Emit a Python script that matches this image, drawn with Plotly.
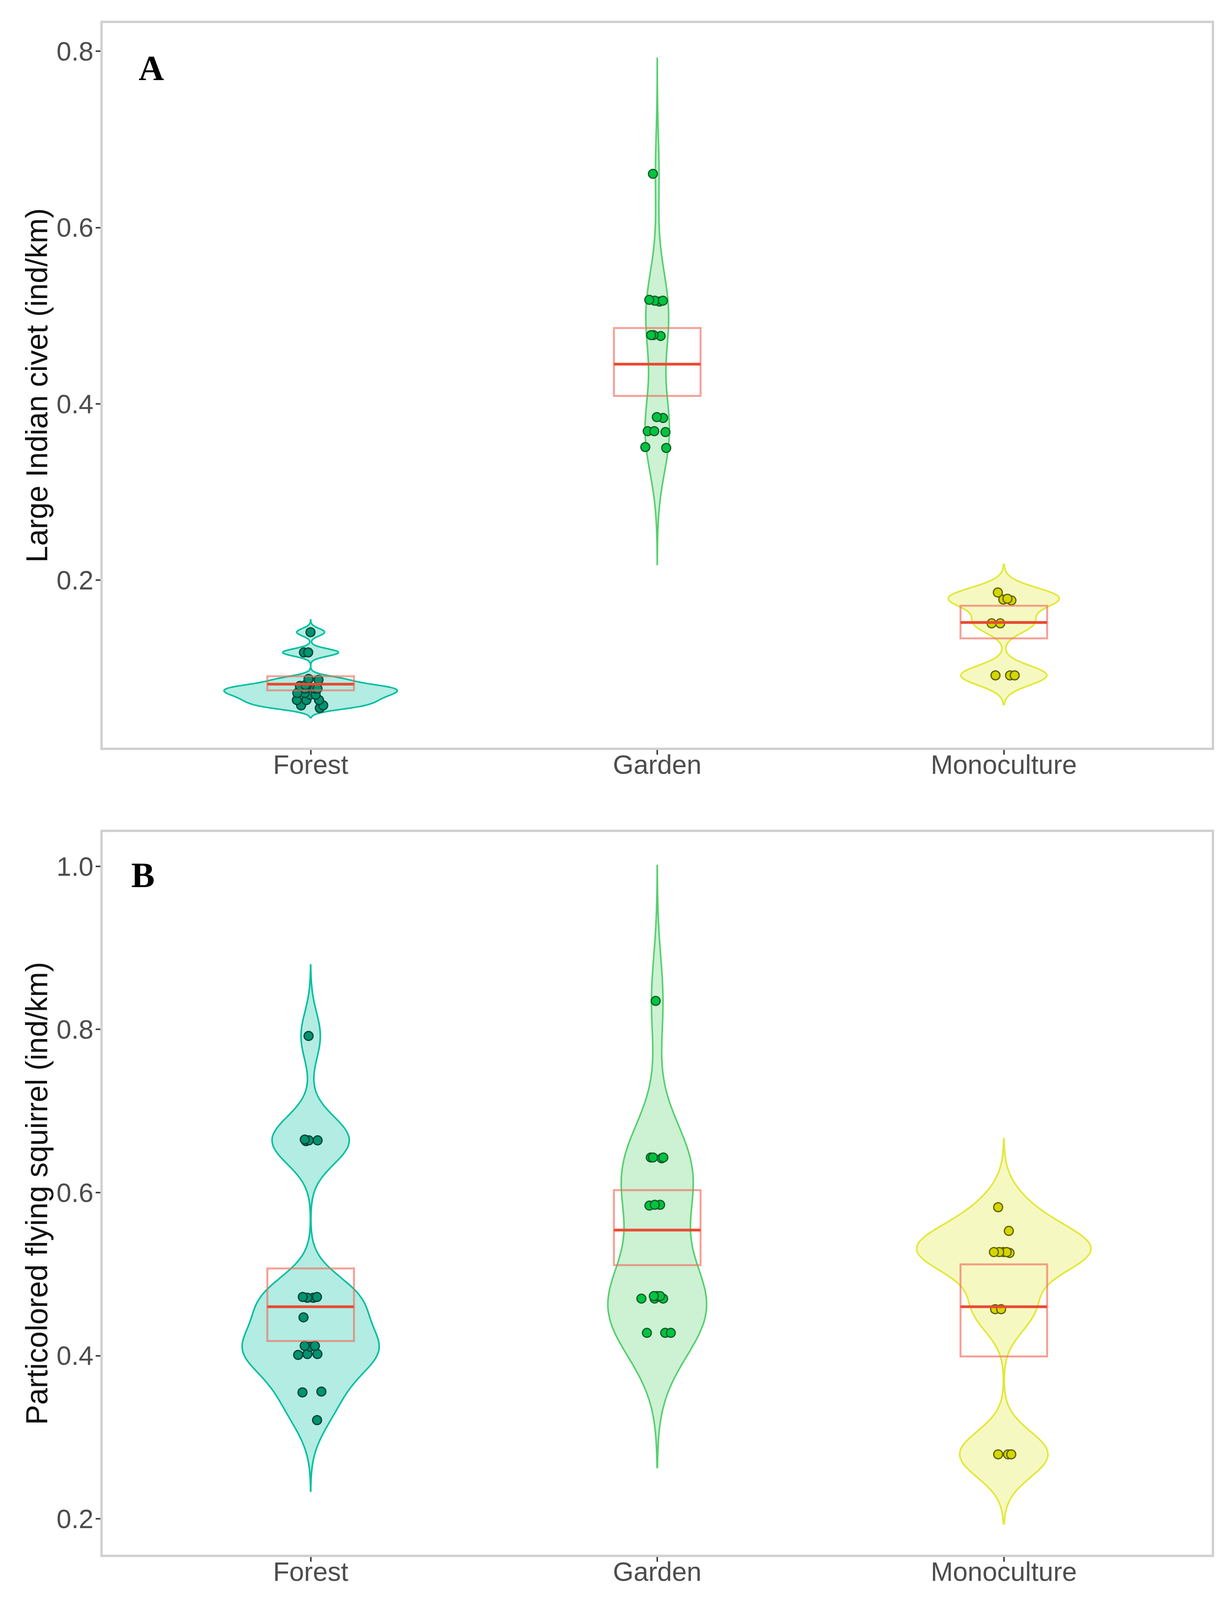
import plotly.graph_objects as go
from plotly.subplots import make_subplots

# ===============================
# DATA
# ===============================
HABITATS = ["Forest", "Garden", "Monoculture"]

# A - Large Indian civet (ind/km)
civet_forest = [0.141, 0.118, 0.118, 0.088, 0.087, 0.081, 0.080, 0.077, 0.077, 0.077,
                0.072, 0.072, 0.070, 0.070, 0.064, 0.064, 0.064, 0.058, 0.058, 0.055]
civet_garden = [0.661, 0.518, 0.517, 0.517, 0.516, 0.478, 0.478, 0.477,
                0.385, 0.384, 0.369, 0.369, 0.368, 0.351, 0.350]
civet_mono = [0.186, 0.179, 0.178, 0.177, 0.151, 0.151, 0.092, 0.092, 0.092]
civet_box_low = [0.075, 0.409, 0.134]
civet_box_mid = [0.082, 0.445, 0.152]
civet_box_high = [0.091, 0.486, 0.171]
civet_bandwidth = [0.0042, 0.044, 0.011]
civet_span_low = [0.044, 0.218, 0.059]
civet_span_high = [0.155, 0.792, 0.218]

# B - Particolored flying squirrel (ind/km)
squirrel_forest = [0.792, 0.665, 0.664, 0.664, 0.663, 0.472, 0.472, 0.471, 0.471, 0.447,
                   0.412, 0.412, 0.411, 0.402, 0.402, 0.401, 0.356, 0.355, 0.321]
squirrel_garden = [0.835, 0.643, 0.643, 0.643, 0.642, 0.585, 0.585, 0.584,
                   0.473, 0.473, 0.473, 0.470, 0.470, 0.470, 0.428, 0.428, 0.428]
squirrel_mono = [0.582, 0.553, 0.527, 0.527, 0.527, 0.527, 0.526, 0.457, 0.457,
                 0.279, 0.279, 0.279]
squirrel_box_low = [0.418, 0.511, 0.399]
squirrel_box_mid = [0.460, 0.554, 0.460]
squirrel_box_high = [0.507, 0.603, 0.512]
squirrel_bandwidth = [0.029, 0.055, 0.028]
squirrel_span_low = [0.234, 0.263, 0.194]
squirrel_span_high = [0.879, 1.001, 0.666]

# ===============================
# STYLE
# ===============================
FONT = "Liberation Sans, Arial, sans-serif"
SERIF = "Liberation Serif, Times New Roman, serif"
LINE_COL = ["#00BF9F", "#55D06E", "#E1E834"]
FILL_COL = ["rgba(0,191,160,0.30)", "rgba(85,208,110,0.30)", "rgba(225,232,52,0.30)"]
PT_FILL = ["#00936F", "#00C440", "#D4D600"]
PT_EDGE = ["#064035", "#155A28", "#5E5E00"]
BOX_COL = "rgba(240,110,95,0.65)"
MED_COL = "#EA4A32"
civet_width = [0.50, 0.07, 0.32]
squirrel_width = [0.394, 0.285, 0.50]

# page is shot in a viewport a bit shorter than the figure, so fit it in
FIG_W, FIG_H = 3126, 4089

fig = make_subplots(rows=2, cols=1)


def add_panel(row, groups, box_low, box_mid, box_high, bws, span_lo, span_hi, widths):
    for i, hab in enumerate(HABITATS):
        vals = groups[i]
        fig.add_trace(go.Violin(
            x=[hab] * len(vals), y=vals,
            bandwidth=bws[i], spanmode="manual", span=[span_lo[i], span_hi[i]],
            width=widths[i], points=False,
            line=dict(color=LINE_COL[i], width=4),
            fillcolor=FILL_COL[i],
            box_visible=False, meanline_visible=False,
        ), row=row, col=1)
    for i, hab in enumerate(HABITATS):
        vals = groups[i]
        fig.add_trace(go.Box(
            x=[hab] * len(vals), y=vals,
            boxpoints="all", jitter=0.9, pointpos=0, width=0.12,
            line=dict(width=0), fillcolor="rgba(0,0,0,0)",
            marker=dict(size=23, color=PT_FILL[i],
                        line=dict(color=PT_EDGE[i], width=3)),
        ), row=row, col=1)
    # box + centre line
    fig.add_trace(go.Box(
        x=HABITATS, q1=box_low, median=box_mid, q3=box_high,
        lowerfence=box_low, upperfence=box_high,
        width=0.25, line=dict(color=BOX_COL, width=5),
        fillcolor="rgba(0,0,0,0)",
    ), row=row, col=1)
    fig.add_trace(go.Box(
        x=HABITATS, q1=box_mid, median=box_mid, q3=box_mid,
        lowerfence=box_mid, upperfence=box_mid,
        width=0.25, line=dict(color=MED_COL, width=7),
        fillcolor="rgba(0,0,0,0)",
    ), row=row, col=1)


add_panel(1, [civet_forest, civet_garden, civet_mono],
          civet_box_low, civet_box_mid, civet_box_high,
          civet_bandwidth, civet_span_low, civet_span_high, civet_width)
add_panel(2, [squirrel_forest, squirrel_garden, squirrel_mono],
          squirrel_box_low, squirrel_box_mid, squirrel_box_high,
          squirrel_bandwidth, squirrel_span_low, squirrel_span_high, squirrel_width)

axis_common = dict(
    showline=True, mirror=True, linecolor="#D0D0D0", linewidth=6,
    ticks="outside", ticklen=12, tickwidth=4, tickcolor="#404040",
    showgrid=False, zeroline=False,
    tickfont=dict(family=FONT, size=68, color="#4D4D4D"),
)

for r in (1, 2):
    fig.update_xaxes(type="category", categoryorder="array", categoryarray=HABITATS,
                     range=[-0.6, 2.6], ticklabelstandoff=-33, **axis_common, row=r, col=1)

fig.update_yaxes(range=[0.010, 0.832], tickvals=[0.2, 0.4, 0.6, 0.8], tickformat=".1f",
                 ticklabelstandoff=-8,
                 title=dict(text="Large Indian civet (ind/km)", standoff=0,
                            font=dict(family=FONT, size=77, color="#111111")),
                 domain=[0.5269, 1.0], **axis_common, row=1, col=1)
fig.update_yaxes(range=[0.156, 1.042], tickvals=[0.2, 0.4, 0.6, 0.8, 1.0], tickformat=".1f",
                 ticklabelstandoff=-8,
                 title=dict(text="Particolored flying squirrel (ind/km)", standoff=0,
                            font=dict(family=FONT, size=77, color="#111111")),
                 domain=[0.0, 0.4718], **axis_common, row=2, col=1)

fig.add_annotation(x=-0.46, y=0.781, xref="x", yref="y", text="<b>A</b>", showarrow=False,
                   font=dict(family=SERIF, size=90, color="black"))
fig.add_annotation(x=-0.484, y=0.989, xref="x2", yref="y2", text="<b>B</b>", showarrow=False,
                   font=dict(family=SERIF, size=90, color="black"))

fig.update_layout(
    width=FIG_W, height=FIG_H,
    margin=dict(l=255, r=31, t=51, b=117),
    violinmode="overlay", boxmode="overlay",
    showlegend=False,
    plot_bgcolor="white", paper_bgcolor="white",
)

fig.write_html("out.html")
